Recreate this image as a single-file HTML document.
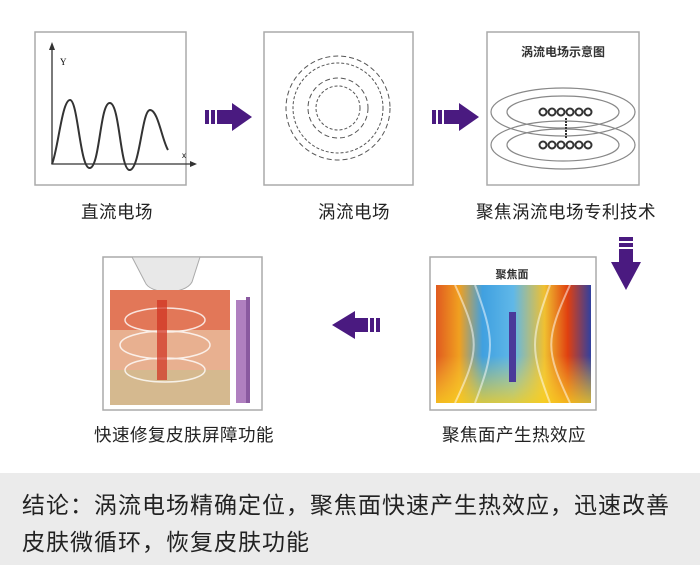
<!DOCTYPE html>
<html><head><meta charset="utf-8"><style>
body{margin:0;width:700px;height:565px;background:#fff;overflow:hidden;font-family:"Liberation Sans","Noto Sans CJK SC",sans-serif}
.l{position:absolute;font-size:17.5px;letter-spacing:0.5px;color:#222;white-space:nowrap}
.band{position:absolute;left:0;top:473px;width:700px;height:92px;background:#ebebeb;}
.band div{position:absolute;left:22px;font-size:23px;letter-spacing:1px;color:#222;white-space:nowrap}
</style></head><body>
<svg width="700" height="473" style="position:absolute;left:0;top:0">
<defs>
<linearGradient id="h" x1="0" y1="0" x2="1" y2="0">
<stop offset="0" stop-color="#e05a20"/><stop offset=".15" stop-color="#f0a020"/><stop offset=".3" stop-color="#40a0e0"/><stop offset=".5" stop-color="#60b8e8"/><stop offset=".7" stop-color="#f0c030"/><stop offset=".85" stop-color="#e04010"/><stop offset="1" stop-color="#3040a0"/></linearGradient>
<linearGradient id="v" x1="0" y1="0" x2="0" y2="1"><stop offset="0" stop-color="#fff" stop-opacity="0"/><stop offset=".6" stop-color="#ffe040" stop-opacity=".0"/><stop offset="1" stop-color="#f8d020" stop-opacity=".8"/></linearGradient>
</defs>
<g fill="#fff" stroke="#aaa" stroke-width="1.5">
<rect x="35" y="32" width="151" height="153"/><rect x="264" y="32" width="149" height="153"/><rect x="487" y="32" width="152" height="153"/>
<rect x="103" y="257" width="159" height="153"/><rect x="430" y="257" width="166" height="153"/></g>
<g stroke="#333" fill="none" stroke-width="1.3"><path d="M52 45V164H195"/><path d="M52 164 C58 150 62 100 70 100 S80 170 90 168 S100 102 110 103 S120 172 130 170 S142 110 150 110 S162 140 168 150" stroke-width="2"/></g>
<path d="M49 50 L52 42 55 50Z M190 161 L197 164 190 167Z" fill="#333"/>
<text x="60" y="65" font-size="9" font-family="Liberation Serif">Y</text><text x="182" y="158" font-size="8">x</text>
<g fill="none" stroke="#555" stroke-width="1"><circle cx="338" cy="108" r="45" stroke-dasharray="3 2"/><circle cx="338" cy="108" r="52" stroke-dasharray="5 3"/><circle cx="338" cy="108" r="22" stroke-dasharray="3 2"/><circle cx="338" cy="108" r="30" stroke-dasharray="5 3"/></g>
<text x="563" y="56" font-size="12" font-weight="bold" text-anchor="middle" fill="#333">涡流电场示意图</text>
<g fill="none" stroke="#888" stroke-width="1.2"><ellipse cx="563" cy="112" rx="72" ry="24"/><ellipse cx="563" cy="112" rx="56" ry="16"/><ellipse cx="563" cy="145" rx="72" ry="24"/><ellipse cx="563" cy="145" rx="56" ry="16"/></g>
<g fill="#fff" stroke="#333" stroke-width="2"><circle cx="543" cy="112" r="3.5"/><circle cx="552" cy="112" r="3.5"/><circle cx="561" cy="112" r="3.5"/><circle cx="570" cy="112" r="3.5"/><circle cx="579" cy="112" r="3.5"/><circle cx="588" cy="112" r="3.5"/><circle cx="543" cy="145" r="3.5"/><circle cx="552" cy="145" r="3.5"/><circle cx="561" cy="145" r="3.5"/><circle cx="570" cy="145" r="3.5"/><circle cx="579" cy="145" r="3.5"/><circle cx="588" cy="145" r="3.5"/></g>
<line x1="566" y1="118" x2="566" y2="139" stroke="#333" stroke-width="2" stroke-dasharray="2 1"/>
<g fill="#4a1a80"><rect x="205" y="110" width="4" height="14"/><rect x="211" y="110" width="4" height="14"/><path d="M217 110H232V103L252 117 232 131V124H217Z"/>
<rect x="432" y="110" width="4" height="14"/><rect x="438" y="110" width="4" height="14"/><path d="M444 110H459V103L479 117 459 131V124H444Z"/>
<rect x="619" y="237" width="14" height="4"/><rect x="619" y="243" width="14" height="4"/><path d="M619 249V262H611L626 290 641 262H633V249Z"/>
<rect x="376" y="318" width="4" height="14"/><rect x="370" y="318" width="4" height="14"/><path d="M368 318H355V311L332 325 355 339V332H368Z"/></g>
<text x="512" y="278" font-size="11" font-weight="bold" text-anchor="middle" fill="#333">聚焦面</text>
<rect x="436" y="285" width="155" height="118" fill="url(#h)"/>
<rect x="436" y="285" width="155" height="118" fill="url(#v)"/>
<g fill="none" stroke="#fff" stroke-opacity=".5" stroke-width="2"><path d="M455 285C480 340 480 350 455 403"/><path d="M570 285C545 340 545 350 570 403"/><path d="M475 285C495 340 495 350 475 403"/><path d="M550 285C530 340 530 350 550 403"/></g>
<rect x="509" y="312" width="7" height="70" fill="#4a3a9a"/>
<path d="M132 257H200L192 282C185 295 150 295 145 282Z" fill="#e8e8e8" stroke="#aaa"/>
<rect x="110" y="290" width="120" height="115" fill="#e8b090"/>
<rect x="110" y="290" width="120" height="40" fill="#e06040" opacity=".7"/>
<rect x="110" y="370" width="120" height="35" fill="#c8c090" opacity=".6"/>
<g fill="none" stroke="#fff" stroke-width="1.5" opacity=".8"><ellipse cx="165" cy="320" rx="40" ry="12"/><ellipse cx="165" cy="345" rx="45" ry="14"/><ellipse cx="165" cy="370" rx="40" ry="12"/></g>
<rect x="157" y="300" width="10" height="80" fill="#d03020" opacity=".7"/>
<rect x="236" y="300" width="10" height="103" fill="#b080c0"/><rect x="246" y="297" width="4" height="106" fill="#8a5aa0"/>
</svg>
<div class="l" style="left:81px;top:199px">直流电场</div>
<div class="l" style="left:318px;top:199px">涡流电场</div>
<div class="l" style="left:476px;top:199px">聚焦涡流电场专利技术</div>
<div class="l" style="left:94px;top:422px">快速修复皮肤屏障功能</div>
<div class="l" style="left:442px;top:422px">聚焦面产生热效应</div>
<div class="band"><div style="top:13px">结论：涡流电场精确定位，聚焦面快速产生热效应，迅速改善</div><div style="top:50px">皮肤微循环，恢复皮肤功能</div></div>
</body></html>
